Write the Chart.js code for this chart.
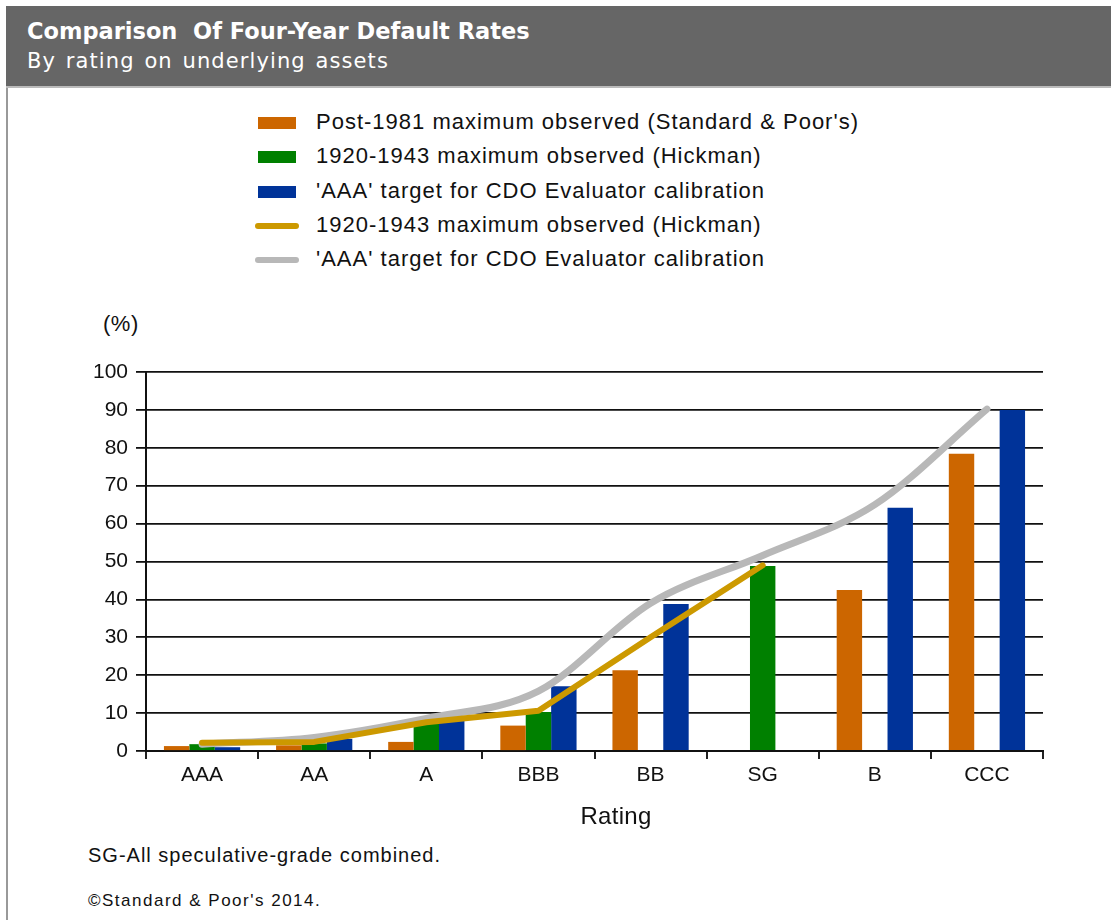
<!DOCTYPE html>
<html>
<head>
<meta charset="utf-8">
<script src="https://cdn.jsdelivr.net/npm/chart.js@4"></script>
<style>
  html, body { margin: 0; padding: 0; background: #fff; }
  body { width: 1111px; height: 920px; position: relative; overflow: hidden; font-family: "Liberation Sans", Arial, sans-serif; color: #111; }
  .header { position: absolute; left: 6px; top: 6px; width: 1105px; height: 80px; background: #666; border-bottom: 2px solid #bbb; }
  .header .t1 { position: absolute; left: 21px; top: 12px; font: bold 22.5px "DejaVu Sans", sans-serif; color: #fff; letter-spacing: 0px; }
  .header .t2 { position: absolute; left: 21px; top: 43px; font: 21px "DejaVu Sans", sans-serif; color: #fff; letter-spacing: 1.1px; word-spacing: 2px; }
  .frame { position: absolute; left: 6px; top: 88px; width: 2px; height: 832px; background: #999; }
  .legend { position: absolute; left: 252px; top: 105px; }
  .legend .row { position: relative; height: 34.3px; font-size: 22px; line-height: 34px; white-space: nowrap; letter-spacing: 1px; }
  .legend .row span.txt { position: absolute; left: 64px; top: 0; }
  .sw { position: absolute; }
  .sw.bar { left: 6px; top: 12px; width: 38px; height: 12px; }
  .sw.line { left: 3px; top: 15px; width: 44px; height: 6px; border-radius: 3px; }
  .unit { position: absolute; left: 103px; top: 311px; font-size: 22px; letter-spacing: 0.5px; }
  .xtitle { position: absolute; left: 0; width: 1232px; text-align: center; top: 802px; font-size: 24px; letter-spacing: 0.3px; }
  .note { position: absolute; left: 88px; font-size: 20px; letter-spacing: 1px; }
  #wrap { position: absolute; left: 0; top: 300px; width: 1111px; height: 540px; }
</style>
</head>
<body>
<div class="header">
  <div class="t1">Comparison&nbsp; Of Four-Year Default Rates</div>
  <div class="t2">By rating on underlying assets</div>
</div>
<div class="frame"></div>
<div class="legend" id="legend"></div>
<div class="unit">(%)</div>
<div id="wrap"><canvas id="chart"></canvas></div>
<div class="xtitle">Rating</div>
<div class="note" style="top:844px">SG-All speculative-grade combined.</div>
<div class="note" style="top:891px; font-size:17px; letter-spacing:1.5px">©Standard &amp; Poor's 2014.</div>

<script>
// ratings on the x axis
const ratings = ['AAA', 'AA', 'A', 'BBB', 'BB', 'SG', 'B', 'CCC'];

// four-year default rates, %
const post1981Max = [1.3, 1.5, 2.4, 6.7, 21.3, null, 42.5, 78.4];
const hickmanMax = [1.8, 2.0, 7.3, 10.3, null, 48.8, null, null];
const aaaTarget = [1.0, 3.2, 8.0, 17.1, 38.8, null, 64.2, 90.0];
const hickmanLine = [2.2, 2.4, 7.6, 10.6, 30.0, 49.0, null, null];
const aaaTargetLine = [1.8, 3.6, 8.6, 15.8, 39.0, 51.6, 65.0, 90.2];

const yTicks = [0, 10, 20, 30, 40, 50, 60, 70, 80, 90, 100];

const colors = {
  post1981: '#cc6600',
  hickman: '#008000',
  target: '#003399',
  hickmanLine: '#cc9900',
  targetLine: '#b8b8b8'
};

const legendItems = [
  { label: "Post-1981 maximum observed (Standard & Poor's)", color: colors.post1981, kind: 'bar' },
  { label: '1920-1943 maximum observed (Hickman)', color: colors.hickman, kind: 'bar' },
  { label: "'AAA' target for CDO Evaluator calibration", color: colors.target, kind: 'bar' },
  { label: '1920-1943 maximum observed (Hickman)', color: colors.hickmanLine, kind: 'line' },
  { label: "'AAA' target for CDO Evaluator calibration", color: colors.targetLine, kind: 'line' }
];

// legend drawn as plain html above the chart
const legendEl = document.getElementById('legend');
legendItems.forEach(it => {
  const row = document.createElement('div');
  row.className = 'row';
  const sw = document.createElement('div');
  sw.className = 'sw ' + it.kind;
  sw.style.background = it.color;
  const txt = document.createElement('span');
  txt.className = 'txt';
  txt.textContent = it.label;
  row.appendChild(sw);
  row.appendChild(txt);
  legendEl.appendChild(row);
});

const tickFont = { family: '"Liberation Sans", Arial, sans-serif', size: 21 };

new Chart(document.getElementById('chart'), {
  data: {
    labels: ratings,
    datasets: [
      { type: 'line', label: legendItems[3].label, data: hickmanLine, borderColor: colors.hickmanLine,
        borderWidth: 6, pointRadius: 0, tension: 0, borderCapStyle: 'round', borderJoinStyle: 'round', order: 0 },
      { type: 'line', label: legendItems[4].label, data: aaaTargetLine, borderColor: colors.targetLine,
        borderWidth: 7, pointRadius: 0, tension: 0.35, cubicInterpolationMode: 'monotone', borderCapStyle: 'round', order: 1 },
      { type: 'bar', label: legendItems[0].label, data: post1981Max, backgroundColor: colors.post1981, order: 2 },
      { type: 'bar', label: legendItems[1].label, data: hickmanMax, backgroundColor: colors.hickman, order: 2 },
      { type: 'bar', label: legendItems[2].label, data: aaaTarget, backgroundColor: colors.target, order: 2 }
    ]
  },
  options: {
    responsive: true,
    maintainAspectRatio: false,
    animation: false,
    datasets: { bar: { categoryPercentage: 0.68, barPercentage: 1.0 } },
    layout: { padding: { left: 0, right: 68, top: 72, bottom: 0 } },
    plugins: { legend: { display: false }, tooltip: { enabled: false } },
    scales: {
      x: {
        offset: true,
        grid: { offset: true, drawOnChartArea: false, drawTicks: true, tickLength: 8, color: '#222', lineWidth: 2 },
        border: { color: '#111', width: 2 },
        ticks: { color: '#111', font: tickFont, padding: 4, maxRotation: 0 },
        afterFit(scale) { scale.height = 89; }
      },
      y: {
        min: 0,
        max: 100,
        afterBuildTicks(scale) { scale.ticks = yTicks.map(v => ({ value: v })); },
        grid: { color: '#111', lineWidth: 1.8, tickLength: 10 },
        border: { color: '#111', width: 2 },
        ticks: { color: '#111', font: tickFont, padding: 8 },
        afterFit(scale) { scale.width = 146; }
      }
    }
  }
});
</script>
</body>
</html>
